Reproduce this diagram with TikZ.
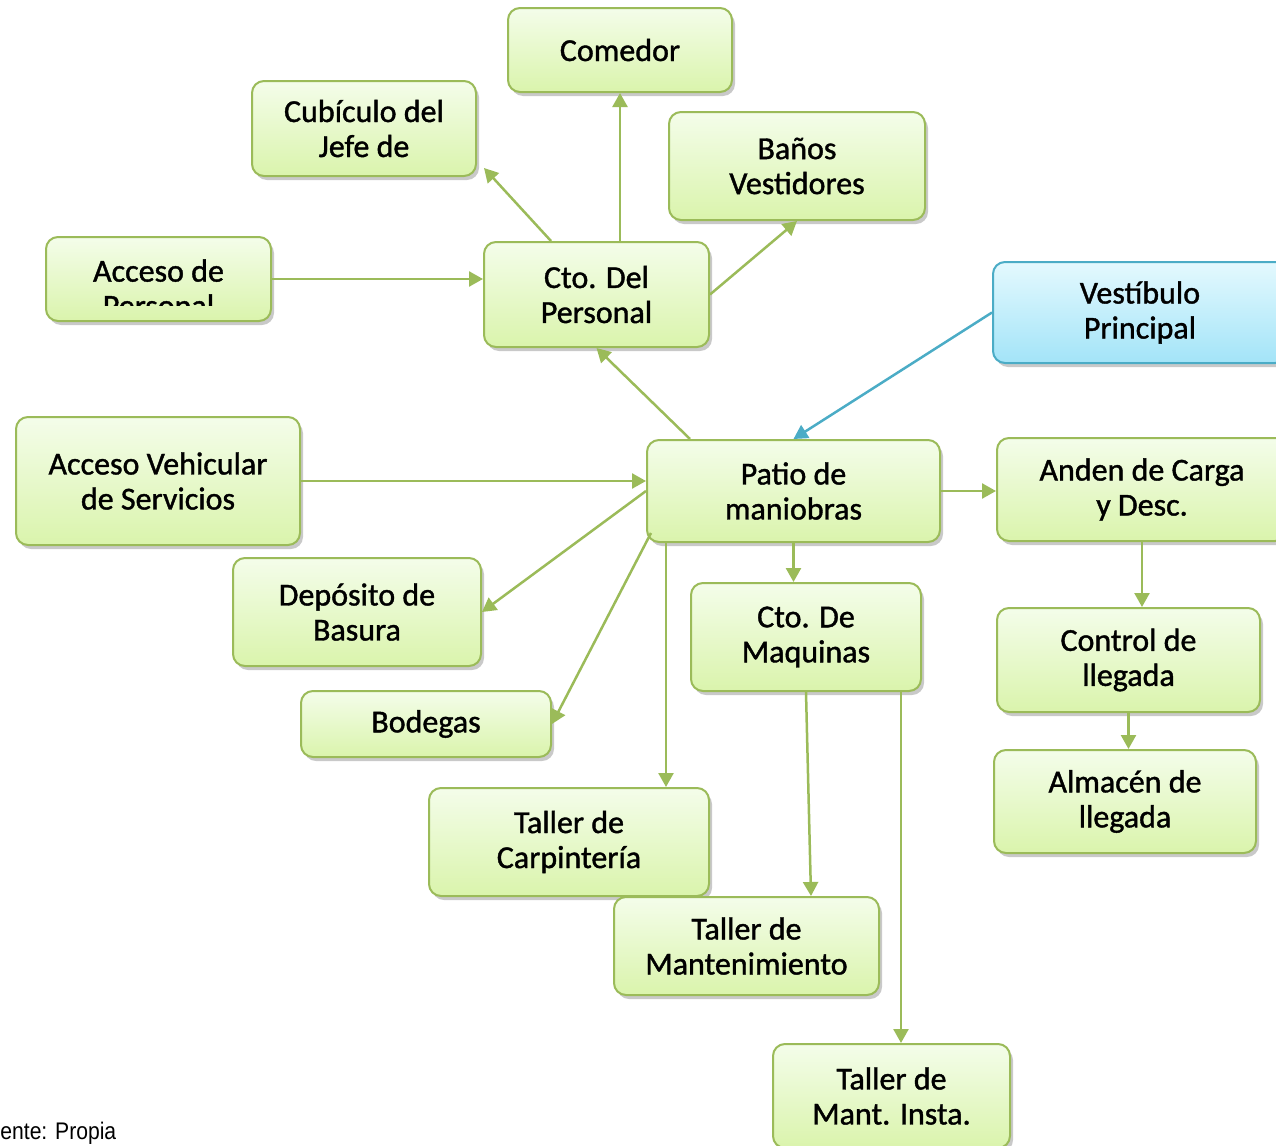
\documentclass[tikz,border=0pt]{standalone}
\usepackage{fontspec}
\setmainfont{Carlito}[FakeBold=1.2]
\newfontfamily\notefont[FakeStretch=0.88]{Liberation Sans}
\usetikzlibrary{arrows.meta,calc,shadows}
\definecolor{verde}{HTML}{9BBB59}
\definecolor{verdetop}{HTML}{F4FDEA}
\definecolor{verdebot}{HTML}{DAF4AC}
\definecolor{azul}{HTML}{4BACC6}
\definecolor{azultop}{HTML}{E4F9FE}
\definecolor{azulbot}{HTML}{A3E4F8}

\begin{document}
\begin{tikzpicture}[x=0.5pt, y=-0.5pt,
    area/.style={draw=verde, line width=1pt, rounded corners=6pt, align=center, inner sep=0pt,
      top color=verdetop, bottom color=verdebot, font=\fontsize{16}{17.5}\selectfont,
      drop shadow={shadow xshift=1.5pt, shadow yshift=-2pt, opacity=0.3, fill=black!70}},
    areaazul/.style={area, draw=azul, top color=azultop, bottom color=azulbot},
    arrow/.style={-{Triangle[length=7pt,width=7.5pt]}, line width=1.25pt, draw=verde},
    arrowazul/.style={arrow, draw=azul}
  ]
    \useasboundingbox (0,0) rectangle (1276,1146);
    \node[area, minimum width=112pt, minimum height=42pt] (comedor) at (620,50) {Comedor};
    \node[area, minimum width=112pt, minimum height=47.5pt] (cubiculo) at (364,128.5) {Cubículo del\\ Jefe de};
    \node[area, minimum width=128pt, minimum height=54pt] (banos) at (797,166) {Baños\\ Vestidores};
    \node[area, minimum width=112.5pt, minimum height=42pt] (accper) at (158.5,279) {};
    \begin{scope}
      \clip (accper.north west) rectangle ([yshift=8.5pt]accper.south east);
      \node[align=center, inner sep=0pt, font=\fontsize{16}{17.5}\selectfont, anchor=north] (accpertxt) at ([yshift=-11.5pt]accper.north) {Acceso de\\ Personal};
    \end{scope}
    \node[area, minimum width=112.5pt, minimum height=52.5pt] (ctoper) at (596.5,294.5) {Cto. Del\\ Personal};
    \node[areaazul, minimum width=147pt, minimum height=50.5pt] (vestib) at (1140,312.5) {Vestíbulo\\ Principal};
    \node[area, minimum width=142pt, minimum height=64pt] (accveh) at (158,481) {Acceso Vehicular\\ de Servicios};
    \node[area, minimum width=146.5pt, minimum height=51pt] (patio) at (793.5,491) {Patio de\\ maniobras};
    \node[area, minimum width=145pt, minimum height=51.5pt] (anden) at (1142,489.5) {Anden de Carga\\ y Desc.};
    \node[area, minimum width=124pt, minimum height=54pt] (deposito) at (357,612) {Depósito de\\ Basura};
    \node[area, minimum width=115pt, minimum height=54pt] (maquinas) at (806,637) {Cto. De\\ Maquinas};
    \node[area, minimum width=131.5pt, minimum height=52pt] (control) at (1128.5,660) {Control de\\ llegada};
    \node[area, minimum width=125pt, minimum height=33pt] (bodegas) at (426,724) {Bodegas};
    \node[area, minimum width=131pt, minimum height=51.5pt] (almacen) at (1125,801.5) {Almacén de\\ llegada};
    \node[area, minimum width=140pt, minimum height=54pt] (carpint) at (569,842) {Taller de\\ Carpintería};
    \node[area, minimum width=132.5pt, minimum height=49pt] (mantto) at (746.5,946) {Taller de\\ Mantenimiento};
    \node[area, minimum width=118.5pt, minimum height=52pt] (mantins) at (891.5,1096) {Taller de\\ Mant. Insta.};
    \node[anchor=west, inner sep=0pt, font=\notefont\fontsize{12}{14}\selectfont] (fuente) at (0,1133) {ente: Propia};

    % personal
    \draw[arrow] (comedor.south |- ctoper.north) -- (comedor.south);
    \draw[arrow] ([xshift=-22.75pt]ctoper.north) -- ([xshift=3.5pt,yshift=4.5pt]cubiculo.south east);
    \draw[arrow] (ctoper.east) -- (banos.south);
    \draw[arrow] (accper.east) -- (accper.east -| ctoper.west);
    \draw[arrow] ([xshift=-51.75pt]patio.north) -- (ctoper.south);
    \draw[arrowazul] (vestib.west) -- (patio.north);
    % patio de maniobras
    \draw[arrow] (accveh.east) -- (accveh.east -| patio.west);
    \draw[arrow] (patio.west) -- (deposito.east);
    \draw[arrow] ([xshift=2.5pt,yshift=5pt]patio.south west) -- (bodegas.east);
    \draw[arrow] ([xshift=10pt]patio.south west) -- ([xshift=10pt]patio.south west |- carpint.north);
    \draw[arrow] (patio.south) -- (patio.south |- maquinas.north);
    \draw[arrow] (patio.east) -- (patio.east -| anden.west);
    \draw[arrow] (anden.south) -- (anden.south |- control.north);
    \draw[arrow] (control.south) -- (control.south |- almacen.north);
    \draw[arrow] (maquinas.south) -- ([xshift=32.25pt]mantto.north);
    \draw[arrow] ([xshift=-10.5pt]maquinas.south east) -- ([xshift=-10.5pt]maquinas.south east |- mantins.north);
  \end{tikzpicture}
\end{document}
